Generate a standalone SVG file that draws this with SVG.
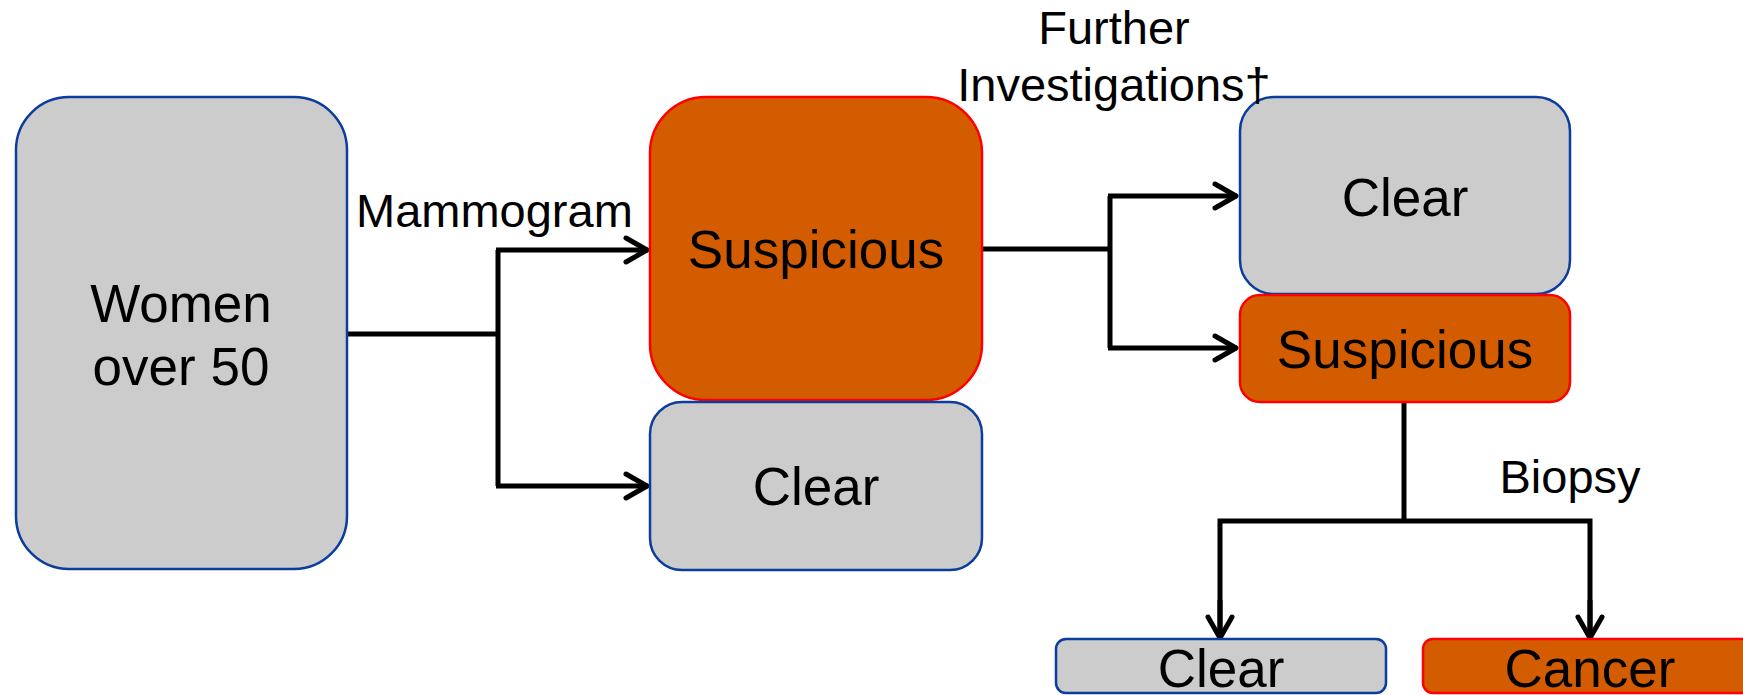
<svg xmlns="http://www.w3.org/2000/svg" width="1743" height="695" viewBox="0 0 1743 695">
<style>
.gray{fill:#cccccc;stroke:#0a3d9e;stroke-width:2.5}
.orange{fill:#d45c00;stroke:#ff0000;stroke-width:2.5}
.t{font-family:"Liberation Sans",Arial,sans-serif;font-size:53px;fill:#000;text-anchor:middle}
.lbl{font-family:"Liberation Sans",Arial,sans-serif;font-size:47px;fill:#000}
.c{fill:none;stroke:#000;stroke-width:5;stroke-linejoin:miter}
</style>
<defs>
<marker id="arr" markerUnits="userSpaceOnUse" viewBox="-28 -16 32 32" refX="0" refY="0" markerWidth="32" markerHeight="32" orient="auto">
<path d="M-22,-12 L-1,0 L-22,12" fill="none" stroke="#000" stroke-width="5" stroke-linecap="round" stroke-linejoin="round"/>
</marker>
</defs>
<g id="connectors">
<path class="c" d="M347,334 H498"/>
<path class="c" d="M498,250 V486"/>
<path class="c" d="M496,250 H648" marker-end="url(#arr)"/>
<path class="c" d="M496,486 H648" marker-end="url(#arr)"/>
<path class="c" d="M982,249 H1110"/>
<path class="c" d="M1110,196 V348"/>
<path class="c" d="M1108,196 H1237" marker-end="url(#arr)"/>
<path class="c" d="M1108,348 H1237" marker-end="url(#arr)"/>
<path class="c" d="M1404,402 V521"/>
<path class="c" d="M1220,639 V521 H1590 V639"/>
<path class="c" d="M1220,600 V639" marker-end="url(#arr)"/>
<path class="c" d="M1590,600 V639" marker-end="url(#arr)"/>
</g>
<g id="women">
<rect class="gray" x="16" y="97" width="331" height="472" rx="53" ry="53"/>
<text class="t" x="181" y="322">Women</text>
<text class="t" x="181" y="385">over 50</text>
</g>
<g id="suspicious1">
<rect class="orange" x="650" y="97" width="332" height="303" rx="56" ry="56"/>
<text class="t" x="816" y="268">Suspicious</text>
</g>
<g id="clear1">
<rect class="gray" x="650" y="402" width="332" height="168" rx="32" ry="32"/>
<text class="t" x="816" y="505">Clear</text>
</g>
<g id="clear2">
<rect class="gray" x="1240" y="97" width="330" height="197" rx="34" ry="34"/>
<text class="t" x="1405" y="216">Clear</text>
</g>
<g id="suspicious2">
<rect class="orange" x="1240" y="295" width="330" height="107" rx="20" ry="20"/>
<text class="t" x="1405" y="368">Suspicious</text>
</g>
<g id="clear3">
<rect class="gray" x="1056" y="639" width="330" height="54" rx="10" ry="10"/>
<text class="t" x="1221" y="687">Clear</text>
</g>
<g id="cancer">
<rect class="orange" x="1423" y="639" width="332" height="54" rx="10" ry="10"/>
<text class="t" x="1590" y="687">Cancer</text>
</g>
<g id="labels">
<text class="lbl" x="356" y="227">Mammogram</text>
<text class="lbl" x="1114" y="44" text-anchor="middle">Further</text>
<text class="lbl" x="1114" y="101" text-anchor="middle">Investigations†</text>
<text class="lbl" x="1570" y="493" text-anchor="middle">Biopsy</text>
</g>
</svg>
